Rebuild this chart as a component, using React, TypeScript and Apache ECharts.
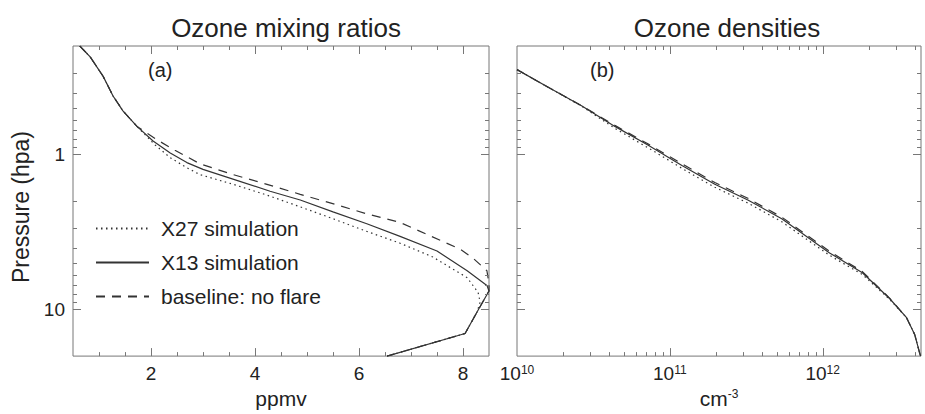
import { useEffect, useRef } from 'react';
import * as echarts from 'echarts';

const FONT = '"Liberation Sans", Arial, Helvetica, sans-serif';
const INK = '#222';
const FRAME = '#777';
const LINE = '#333';

const seriesNames = ['X27 simulation', 'X13 simulation', 'baseline: no flare'];

// Panel (a): [mixing ratio ppmv, pressure hPa]
const mixX27: [number, number][] = [
  [0.63, 0.2], [0.83, 0.235], [1.08, 0.314], [1.27, 0.42], [1.46, 0.524], [1.73, 0.66],
  [2.08, 0.87], [2.37, 1.05], [2.69, 1.22], [2.94, 1.35], [3.58, 1.56], [4.23, 1.83],
  [4.87, 2.18], [5.5, 2.6], [6.15, 3.14], [6.79, 3.74], [7.42, 4.59], [8.08, 6.24],
  [8.29, 7.76], [8.33, 8.97], [8.27, 10.4], [8.04, 14.3], [6.54, 20],
];
const mixX13: [number, number][] = [
  [0.63, 0.2], [0.83, 0.235], [1.08, 0.314], [1.27, 0.42], [1.46, 0.524], [1.73, 0.66],
  [2.04, 0.82], [2.37, 0.98], [2.69, 1.13], [3.0, 1.25], [3.65, 1.47], [4.29, 1.73],
  [4.87, 1.97], [5.5, 2.35], [6.15, 2.8], [6.79, 3.38], [7.5, 4.2], [8.08, 5.63],
  [8.46, 7.0], [8.5, 7.6], [8.27, 10.4], [8.04, 14.3], [6.54, 20],
];
const mixBase: [number, number][] = [
  [0.63, 0.2], [0.83, 0.235], [1.08, 0.314], [1.27, 0.42], [1.46, 0.524], [1.73, 0.66],
  [2.1, 0.8], [2.46, 0.94], [2.94, 1.15], [3.58, 1.35], [4.23, 1.56], [4.87, 1.81],
  [5.58, 2.12], [6.15, 2.42], [6.79, 2.75], [7.56, 3.58], [7.94, 4.08], [8.19, 4.66],
  [8.46, 5.63], [8.5, 6.8], [8.5, 7.6], [8.27, 10.4], [8.04, 14.3], [6.54, 20],
];

// Panel (b): [density cm^-3, pressure hPa]
const densX27: [number, number][] = [
  [1e10, 0.284], [1.6e10, 0.369], [2.66e10, 0.49], [4.37e10, 0.68], [7.18e10, 0.905],
  [1.2e11, 1.23], [1.97e11, 1.63], [3.24e11, 2.06], [5.4e11, 2.72], [1.11e12, 4.48],
  [1.82e12, 5.95], [2.74e12, 8.6], [3.54e12, 11.3], [4.0e12, 14.5], [4.3e12, 18.9], [4.37e12, 20],
];
const densX13: [number, number][] = [
  [1e10, 0.284], [1.6e10, 0.369], [2.66e10, 0.487], [4.37e10, 0.66], [7.18e10, 0.87],
  [1.2e11, 1.18], [1.97e11, 1.56], [3.24e11, 1.97], [5.4e11, 2.6], [1.11e12, 4.32],
  [1.82e12, 5.8], [2.74e12, 8.5], [3.54e12, 11.3], [4.0e12, 14.5], [4.3e12, 18.9], [4.37e12, 20],
];
const densBase: [number, number][] = [
  [1e10, 0.284], [1.6e10, 0.369], [2.66e10, 0.487], [4.37e10, 0.65], [7.18e10, 0.855],
  [1.2e11, 1.15], [1.97e11, 1.52], [3.24e11, 1.92], [5.4e11, 2.54], [1.11e12, 4.22],
  [1.82e12, 5.7], [2.74e12, 8.45], [3.54e12, 11.3], [4.0e12, 14.5], [4.3e12, 18.9], [4.37e12, 20],
];

// Tick values
const mixLabels = [2, 4, 6, 8];
const mixMinorTicks = [1, 1.5, 2.5, 3, 3.5, 4.5, 5, 5.5, 6.5, 7, 7.5];
const pressureLabels = [1, 10];
const pressureMinorTicks = [0.3, 0.4, 0.5, 0.6, 0.7, 0.8, 0.9, 2, 3, 4, 5, 6, 7, 8, 9];
const densLabels = [1e10, 1e11, 1e12];
const densMinorTicks = [
  2e10, 3e10, 4e10, 5e10, 6e10, 7e10, 8e10, 9e10,
  2e11, 3e11, 4e11, 5e11, 6e11, 7e11, 8e11, 9e11,
  2e12, 3e12, 4e12,
];

const MINOR = 4;
const MAJOR = 8;

const leftTicks = [
  ...mixMinorTicks.map((v) => [v, 1, MINOR, 0]),
  ...mixLabels.map((v) => [v, 1, MAJOR, 0]),
  ...pressureMinorTicks.map((p) => [4, p, MINOR, 1]),
  ...pressureLabels.map((p) => [4, p, MAJOR, 1]),
];
const rightTicks = [
  ...densMinorTicks.map((v) => [v, 1, MINOR, 0]),
  ...densLabels.slice(1).map((v) => [v, 1, MAJOR, 0]),
  ...pressureMinorTicks.map((p) => [1e11, p, MINOR, 1]),
  ...pressureLabels.map((p) => [1e11, p, MAJOR, 1]),
];

const near = (a: number, b: number) => Math.abs(a / b - 1) < 1e-6;

const tickRender = (params: any, api: any) => {
  const cs = params.coordSys;
  const len = api.value(2);
  const kind = api.value(3);
  const pt = api.coord([api.value(0), api.value(1)]);
  const style = { stroke: FRAME, lineWidth: 1 };
  if (kind === 0) {
    const x = Math.round(pt[0]) + 0.5;
    const yb = cs.y + cs.height;
    return {
      type: 'group',
      children: [
        { type: 'line', shape: { x1: x, y1: yb, x2: x, y2: yb - len }, style },
        { type: 'line', shape: { x1: x, y1: cs.y, x2: x, y2: cs.y + len }, style },
      ],
    };
  }
  const y = Math.round(pt[1]) + 0.5;
  const xr = cs.x + cs.width;
  return {
    type: 'group',
    children: [
      { type: 'line', shape: { x1: cs.x, y1: y, x2: cs.x + len, y2: y }, style },
      { type: 'line', shape: { x1: xr, y1: y, x2: xr - len, y2: y }, style },
    ],
  };
};

const lineTypes: any[] = [[1.5, 3.5], 'solid', [9, 7]];

const supRich = {
  b: { fontSize: 19, fontFamily: FONT, color: INK },
  s: { fontSize: 12, fontFamily: FONT, color: INK, verticalAlign: 'top' as const },
};

function makeOption(): any {
  const mixData = [mixX27, mixX13, mixBase];
  const densData = [densX27, densX13, densBase];
  const lineSeries: any[] = [];
  seriesNames.forEach((name, i) => {
    lineSeries.push({
      name,
      type: 'line',
      xAxisIndex: 0,
      yAxisIndex: 0,
      data: mixData[i],
      symbol: 'none',
      color: LINE,
      lineStyle: { color: LINE, width: 1.2, type: lineTypes[i] },
      z: 3,
    });
    lineSeries.push({
      name,
      type: 'line',
      xAxisIndex: 1,
      yAxisIndex: 1,
      data: densData[i],
      symbol: 'none',
      color: LINE,
      lineStyle: { color: LINE, width: 1.2, type: lineTypes[i] },
      z: 3,
    });
  });

  return {
    animation: false,
    backgroundColor: '#fff',
    textStyle: { fontFamily: FONT },
    title: [
      {
        text: 'Ozone mixing ratios',
        left: 281,
        top: 10,
        textAlign: 'center',
        textStyle: { fontSize: 26, fontWeight: 'normal', color: INK, fontFamily: FONT },
      },
      {
        text: 'Ozone densities',
        left: 722,
        top: 10,
        textAlign: 'center',
        textStyle: { fontSize: 26, fontWeight: 'normal', color: INK, fontFamily: FONT },
      },
    ],
    legend: {
      orient: 'vertical',
      left: 95,
      top: 218,
      padding: 0,
      itemWidth: 53,
      itemHeight: 14,
      itemGap: 13,
      selectedMode: false,
      itemStyle: { opacity: 0, borderWidth: 0 },
      lineStyle: { opacity: 1 },
      data: seriesNames,
      textStyle: { fontSize: 21, color: INK, fontFamily: FONT, padding: [0, 0, 0, 7] },
    },
    graphic: [
      { type: 'text', left: 148, top: 60, style: { text: '(a)', fontSize: 20, fill: INK, fontFamily: FONT } },
      { type: 'text', left: 590, top: 60, style: { text: '(b)', fontSize: 20, fill: INK, fontFamily: FONT } },
    ],
    grid: [
      { left: 73, top: 46, width: 416, height: 315, show: true, borderColor: FRAME, borderWidth: 1, backgroundColor: 'transparent' },
      { left: 517, top: 46, width: 404, height: 315, show: true, borderColor: FRAME, borderWidth: 1, backgroundColor: 'transparent' },
    ],
    xAxis: [
      {
        gridIndex: 0,
        type: 'value',
        min: 0.5,
        max: 8.5,
        interval: 0.5,
        axisLine: { show: false },
        axisTick: { show: false },
        splitLine: { show: false },
        axisLabel: {
          margin: 8,
          fontSize: 19,
          color: INK,
          fontFamily: FONT,
          formatter: (v: number) => (mixLabels.some((m) => Math.abs(m - v) < 1e-9) ? String(v) : ''),
        },
        name: 'ppmv',
        nameLocation: 'middle',
        nameGap: 26,
        nameTextStyle: { fontSize: 21, color: INK, fontFamily: FONT, verticalAlign: 'top' },
      },
      {
        gridIndex: 1,
        type: 'log',
        logBase: 10,
        min: 1e10,
        max: 4.4e12,
        axisLine: { show: false },
        axisTick: { show: false },
        splitLine: { show: false },
        axisLabel: {
          margin: 8,
          color: INK,
          fontFamily: FONT,
          formatter: (v: number) => {
            const hit = densLabels.find((d) => near(v, d));
            if (!hit) return '';
            return `{b|10}{s|${Math.round(Math.log10(hit))}}`;
          },
          rich: supRich,
        },
        name: '{b|cm}{s|-3}',
        nameLocation: 'middle',
        nameGap: 26,
        nameTextStyle: {
          verticalAlign: 'top',
          rich: {
            b: { fontSize: 21, fontFamily: FONT, color: INK },
            s: { fontSize: 12, fontFamily: FONT, color: INK, verticalAlign: 'top' },
          },
        },
      },
    ],
    yAxis: [
      {
        gridIndex: 0,
        type: 'log',
        logBase: 10,
        min: 0.2,
        max: 20,
        inverse: true,
        axisLine: { show: false },
        axisTick: { show: false },
        splitLine: { show: false },
        axisLabel: {
          margin: 8,
          fontSize: 19,
          color: INK,
          fontFamily: FONT,
          formatter: (v: number) => {
            const hit = pressureLabels.find((p) => near(v, p));
            return hit ? String(hit) : '';
          },
        },
        name: 'Pressure (hpa)',
        nameLocation: 'middle',
        nameGap: 41,
        nameTextStyle: { fontSize: 23, color: INK, fontFamily: FONT, padding: [0, 12, 0, 0] },
      },
      {
        gridIndex: 1,
        type: 'log',
        logBase: 10,
        min: 0.2,
        max: 20,
        inverse: true,
        axisLine: { show: false },
        axisTick: { show: false },
        splitLine: { show: false },
        axisLabel: { show: false },
      },
    ],
    series: [
      ...lineSeries,
      {
        type: 'custom',
        xAxisIndex: 0,
        yAxisIndex: 0,
        silent: true,
        clip: false,
        data: leftTicks,
        renderItem: tickRender,
        z: 5,
      },
      {
        type: 'custom',
        xAxisIndex: 1,
        yAxisIndex: 1,
        silent: true,
        clip: false,
        data: rightTicks,
        renderItem: tickRender,
        z: 5,
      },
    ],
  };
}

export default function App() {
  const ref = useRef<HTMLDivElement>(null);
  useEffect(() => {
    if (!ref.current) return;
    const chart = echarts.init(ref.current, null, { renderer: 'svg' });
    chart.setOption(makeOption());
    return () => chart.dispose();
  }, []);
  return (
    <div
      ref={ref}
      style={{ position: 'fixed', left: 0, top: 0, width: 925, height: 414, background: '#fff' }}
    />
  );
}
